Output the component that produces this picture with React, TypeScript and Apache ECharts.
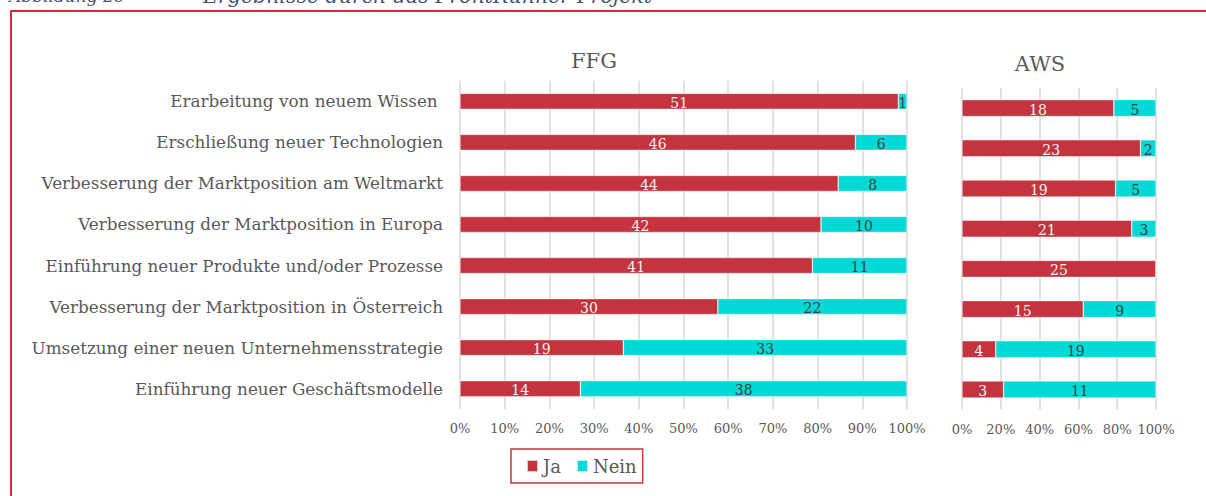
import React, { useEffect, useRef } from "react";
import * as echarts from "echarts";

const categories = [
  "Erarbeitung von neuem Wissen ",
  "Erschließung neuer Technologien",
  "Verbesserung der Marktposition am Weltmarkt",
  "Verbesserung der Marktposition in Europa",
  "Einführung neuer Produkte und/oder Prozesse",
  "Verbesserung der Marktposition in Österreich",
  "Umsetzung einer neuen Unternehmensstrategie",
  "Einführung neuer Geschäftsmodelle",
];
const ffgJa = [51, 46, 44, 42, 41, 30, 19, 14];
const ffgNein = [1, 6, 8, 10, 11, 22, 33, 38];
const awsJa = [18, 23, 19, 21, 25, 15, 4, 3];
const awsNein = [5, 2, 5, 3, 0, 9, 19, 11];
const ffgTickStep = 10;
const awsTickStep = 20;
const seriesNames = ["Ja", "Nein"];
const panelTitles = ["FFG", "AWS"];
const figureNumber = "Abbildung 26";
const figureCaption = "Ergebnisse durch das FrontRunner-Projekt";

const FONT = '"DejaVu Serif", Georgia, serif';
const RED = "#c3343f";
const CYAN = "#00d9d5";
const GRAY = "#595959";

const share = (part: number[], other: number[]) =>
  part.map((v, i) => (v / (v + other[i])) * 100);

function makeSeries(
  name: string,
  stack: string,
  axisIndex: number,
  part: number[],
  other: number[],
  color: string,
  labelColor: string,
  barWidth: number
) {
  return {
    name,
    type: "bar",
    stack,
    xAxisIndex: axisIndex,
    yAxisIndex: axisIndex,
    barWidth,
    data: share(part, other),
    itemStyle: { color, borderColor: "rgba(255,255,255,0.7)", borderWidth: 0.6 },
    label: {
      show: true,
      position: "inside",
      color: labelColor,
      fontFamily: FONT,
      fontSize: 14,
      offset: [0, 1.5],
      formatter: (p: any) => (part[p.dataIndex] ? String(part[p.dataIndex]) : ""),
    },
  };
}

export default function App() {
  const ref = useRef<HTMLDivElement>(null);
  useEffect(() => {
    document.body.style.margin = "0";
    const chart = echarts.init(ref.current!, undefined, { renderer: "svg" });
    const valueAxis = (gridIndex: number, step: number) => ({
      type: "value",
      gridIndex,
      min: 0,
      max: 100,
      interval: step,
      axisLine: { show: false },
      axisTick: { show: false },
      splitLine: { show: true, lineStyle: { color: "#d9d9d9", width: 1.5 } },
      axisLabel: {
        formatter: "{value}%",
        fontFamily: FONT,
        fontSize: 13,
        color: GRAY,
        margin: 13,
      },
    });
    const catAxis = (gridIndex: number, showLabels: boolean) => ({
      type: "category",
      gridIndex,
      inverse: true,
      data: categories,
      axisLine: { show: false },
      axisTick: { show: false },
      axisLabel: {
        show: showLabels,
        fontFamily: FONT,
        fontSize: 16.8,
        color: GRAY,
        margin: 17,
      },
    });
    chart.setOption({
      animation: false,
      backgroundColor: "#ffffff",
      grid: [
        { left: 460, top: 80.8, width: 447, height: 328.4, containLabel: false },
        { left: 962, top: 88, width: 194, height: 321.6, containLabel: false },
      ],
      xAxis: [valueAxis(0, ffgTickStep), valueAxis(1, awsTickStep)],
      yAxis: [catAxis(0, true), catAxis(1, false)],
      legend: {
        data: seriesNames,
        left: 511,
        top: 449,
        icon: "rect",
        itemWidth: 11,
        itemHeight: 12,
        itemGap: 15,
        padding: [8, 6, 8, 15],
        borderColor: RED,
        borderWidth: 1.5,
        textStyle: { fontFamily: FONT, fontSize: 18, color: GRAY },
      },
      series: [
        makeSeries(seriesNames[0], "ffg", 0, ffgJa, ffgNein, RED, "#f2f2f2", 16),
        makeSeries(seriesNames[1], "ffg", 0, ffgNein, ffgJa, CYAN, "#404040", 16),
        makeSeries(seriesNames[0], "aws", 1, awsJa, awsNein, RED, "#f2f2f2", 17),
        makeSeries(seriesNames[1], "aws", 1, awsNein, awsJa, CYAN, "#404040", 17),
      ],
      graphic: [
        {
          type: "rect",
          silent: true,
          shape: { x: 11, y: 11, width: 1300, height: 600 },
          style: { fill: "none", stroke: RED, lineWidth: 2 },
        },
        {
          type: "text",
          silent: true,
          x: 9,
          y: -4,
          style: {
            text: figureNumber,
            font: `italic 17px ${FONT}`,
            fill: "#44546a",
            verticalAlign: "middle",
          },
        },
        {
          type: "text",
          silent: true,
          x: 203,
          y: -4.5,
          style: {
            text: figureCaption,
            font: `italic 20.5px ${FONT}`,
            fill: "#44546a",
            verticalAlign: "middle",
          },
        },
        {
          type: "text",
          silent: true,
          x: 594,
          y: 61,
          style: {
            text: panelTitles[0],
            font: `21px ${FONT}`,
            fill: GRAY,
            align: "center",
            verticalAlign: "middle",
          },
        },
        {
          type: "text",
          silent: true,
          x: 1040,
          y: 64,
          style: {
            text: panelTitles[1],
            font: `21px ${FONT}`,
            fill: GRAY,
            align: "center",
            verticalAlign: "middle",
          },
        },
      ],
    });
    return () => chart.dispose();
  }, []);
  return <div ref={ref} style={{ width: 1206, height: 496 }} />;
}
